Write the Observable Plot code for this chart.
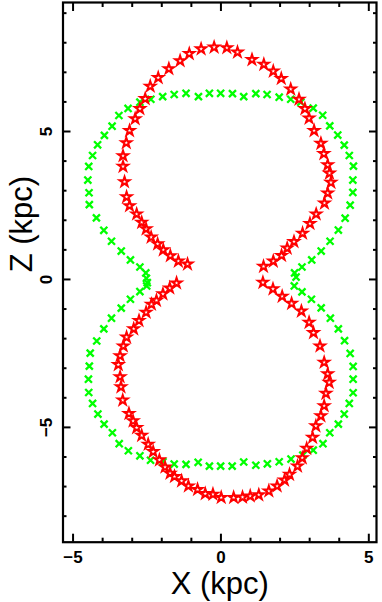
<!DOCTYPE html>
<html>
<head>
<meta charset="utf-8">
<script src="https://cdn.jsdelivr.net/npm/d3@7"></script>
<script src="https://cdn.jsdelivr.net/npm/@observablehq/plot@0.6"></script>
<style>
  html, body { margin: 0; padding: 0; background: #fff; }
  #chart { width: 382px; height: 602px; }
</style>
</head>
<body>
<div id="chart"></div>
<script>
// ---- data ----
const greenX = [-2.52,-2.54,-2.74,-3.06,-3.37,-3.70,-3.96,-4.21,-4.45,-4.46,-4.50,-4.47,-4.34,-4.17,-3.94,-3.68,-3.45,-3.14,-2.74,-2.37,-1.97,-1.58,-1.18,-0.76,-0.39,-0.01,0.39,0.77,1.18,1.56,1.97,2.36,2.70,3.12,3.44,3.68,3.95,4.17,4.34,4.48,4.46,4.46,4.37,4.20,3.97,3.69,3.39,3.07,2.74,2.49,2.54,
  2.48,2.74,3.06,3.39,3.70,3.97,4.18,4.37,4.47,4.47,4.47,4.34,4.17,3.97,3.68,3.45,3.12,2.77,2.37,1.97,1.57,1.18,0.77,0.38,-0.01,-0.39,-0.77,-1.18,-1.58,-1.96,-2.38,-2.74,-3.13,-3.44,-3.67,-3.95,-4.16,-4.34,-4.47,-4.48,-4.45,-4.42,-4.20,-3.96,-3.70,-3.37,-3.06,-2.74,-2.51,-2.49];
const greenZ = [0.04,0.22,0.42,0.66,0.96,1.29,1.66,2.08,2.53,2.93,3.36,3.82,4.19,4.55,4.87,5.18,5.54,5.78,5.99,6.09,6.18,6.25,6.29,6.18,6.29,6.29,6.28,6.18,6.28,6.25,6.16,6.09,5.99,5.79,5.55,5.19,4.88,4.54,4.19,3.83,3.36,2.94,2.51,2.07,1.67,1.29,0.96,0.66,0.42,0.22,0.08,
  -0.22,-0.42,-0.67,-0.96,-1.31,-1.67,-2.07,-2.50,-2.94,-3.37,-3.83,-4.19,-4.55,-4.89,-5.18,-5.55,-5.77,-5.94,-6.07,-6.16,-6.23,-6.28,-6.17,-6.31,-6.31,-6.31,-6.18,-6.25,-6.24,-6.16,-6.11,-5.96,-5.79,-5.55,-5.18,-4.89,-4.55,-4.19,-3.82,-3.37,-2.93,-2.49,-2.08,-1.67,-1.31,-0.97,-0.67,-0.41,-0.22,-0.11];

const redX = [-1.13,-1.44,-1.71,-1.95,-2.14,-2.36,-2.53,-2.68,-2.85,-3.09,-3.19,-3.26,-3.31,-3.31,-3.20,-3.09,-2.90,-2.74,-2.56,-2.39,-2.12,-1.76,-1.38,-1.07,-0.67,-0.23,0.20,0.56,1.05,1.45,1.77,2.04,2.36,2.64,2.84,2.98,3.15,3.38,3.48,3.61,3.67,3.72,3.61,3.50,3.22,3.01,2.76,2.47,2.24,2.05,1.77,1.44,
  -1.50,-1.73,-1.96,-2.18,-2.35,-2.53,-2.77,-2.95,-3.19,-3.30,-3.41,-3.47,-3.41,-3.38,-3.32,-3.11,-2.97,-2.85,-2.68,-2.46,-2.29,-2.08,-1.89,-1.72,-1.57,-1.33,-1.10,-0.79,-0.53,-0.27,0.01,0.43,0.73,0.99,1.28,1.62,1.90,2.15,2.32,2.59,2.75,2.90,3.10,3.21,3.38,3.49,3.55,3.66,3.61,3.49,3.35,3.13,2.98,2.72,2.39,2.07,1.76,1.42];
const redZ = [0.52,0.62,0.80,1.00,1.20,1.43,1.71,1.93,2.21,2.49,2.79,3.30,3.82,4.18,4.62,5.03,5.43,5.77,6.11,6.53,6.82,7.12,7.39,7.63,7.79,7.85,7.83,7.68,7.43,7.27,7.04,6.79,6.43,6.09,5.77,5.45,5.03,4.60,4.25,3.87,3.59,3.28,2.92,2.58,2.21,1.89,1.56,1.28,1.06,0.81,0.62,0.44,
  -0.12,-0.29,-0.49,-0.71,-0.84,-1.11,-1.39,-1.67,-1.95,-2.25,-2.58,-2.88,-3.29,-3.63,-4.08,-4.53,-4.78,-5.01,-5.27,-5.57,-5.82,-6.10,-6.34,-6.55,-6.66,-6.81,-6.98,-7.10,-7.24,-7.26,-7.37,-7.37,-7.36,-7.32,-7.28,-7.15,-6.98,-6.78,-6.59,-6.31,-6.03,-5.71,-5.34,-4.95,-4.61,-4.27,-3.85,-3.48,-3.19,-2.80,-2.25,-1.80,-1.45,-1.07,-0.81,-0.57,-0.32,-0.10];

const xMajorTicks = [-5, 0, 5];
const xMajorLabels = ["\u22125", "0", "5"];
const xMinorTicks = [-4, -3, -2, -1, 1, 2, 3, 4];
const yMajorTicks = [-5, 0, 5];
const yMajorLabels = ["\u22125", "0", "5"];
const yMinorTicks = [-8, -7, -6, -4, -3, -2, -1, 1, 2, 3, 4, 6, 7, 8, 9];
const xLabel = "X (kpc)";
const yLabel = "Z (kpc)";

const green = greenX.map((x, i) => ({x, z: greenZ[i]}));
const red = redX.map((x, i) => ({x, z: redZ[i]}));

// tick-only axes: no text (fill none), no label
const tickStyle = {fill: "none", label: null, strokeWidth: 2};
const labelFont = {fontSize: 17, fontWeight: "bold"};

const chart = Plot.plot({
  width: 382,
  height: 602,
  marginLeft: 62.5,
  marginRight: 6,
  marginTop: 2,
  marginBottom: 60.3,
  style: {fontFamily: "'Liberation Sans', Arial, Helvetica, sans-serif", background: "white", color: "black"},
  x: {domain: [-5.34, 5.26]},
  y: {domain: [-8.88, 9.36]},
  marks: [
    // minor ticks (inward, all four sides)
    Plot.axisX(xMinorTicks, {anchor: "bottom", tickSize: -4, ...tickStyle}),
    Plot.axisX(xMinorTicks, {anchor: "top", tickSize: -4, ...tickStyle}),
    Plot.axisY(yMinorTicks, {anchor: "left", tickSize: -4, ...tickStyle}),
    Plot.axisY(yMinorTicks, {anchor: "right", tickSize: -4, ...tickStyle}),
    // major ticks
    Plot.axisX(xMajorTicks, {anchor: "bottom", tickSize: -8, ...tickStyle}),
    Plot.axisX(xMajorTicks, {anchor: "top", tickSize: -8, ...tickStyle}),
    Plot.axisY(yMajorTicks, {anchor: "left", tickSize: -8, ...tickStyle}),
    Plot.axisY(yMajorTicks, {anchor: "right", tickSize: -8, ...tickStyle}),
    // tick labels
    Plot.axisX(xMajorTicks, {anchor: "bottom", tickSize: 0, tickPadding: 8.5, label: null,
      tickFormat: (d, i) => xMajorLabels[i], ...labelFont}),
    Plot.axisY(yMajorTicks, {anchor: "left", tickSize: 0, tickPadding: 16, label: null,
      rotate: -90, textAnchor: "middle", lineAnchor: "middle",
      tickFormat: (d, i) => yMajorLabels[i], ...labelFont}),
    // axis titles
    Plot.text([xLabel], {text: d => d, frameAnchor: "bottom", dy: 41.5, lineAnchor: "middle",
      fontSize: 31, letterSpacing: 2}),
    Plot.text([yLabel], {text: d => d, frameAnchor: "left", dx: -40.5, rotate: -90,
      lineAnchor: "middle", fontSize: 31, letterSpacing: 2}),
    // data
    Plot.dot(green, {x: "x", y: "z", symbol: "times", r: 3.3, stroke: "#00ff00", strokeWidth: 2.3}),
    Plot.dot(red, {x: "x", y: "z", symbol: "star", r: 3.1, stroke: "#ff0000", fill: "white", strokeWidth: 2}),
    Plot.frame({stroke: "black", strokeWidth: 2.2})
  ]
});
document.getElementById("chart").appendChild(chart);
</script>
</body>
</html>
